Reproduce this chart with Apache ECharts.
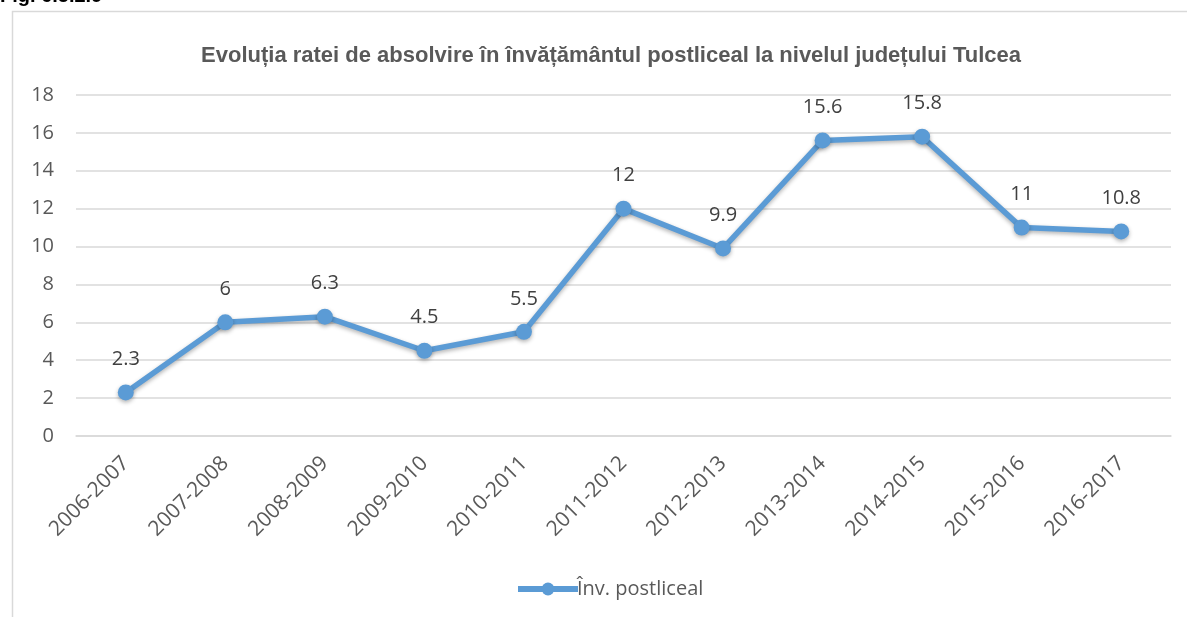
<!DOCTYPE html>
<html><head><meta charset="utf-8">
<script src="https://cdn.jsdelivr.net/npm/echarts@6/dist/echarts.min.js"></script>
<style>html,body{margin:0;padding:0;background:#fff}#c{width:1187px;height:617px}</style>
</head><body><div id="c"></div>
<script>
const categories = ['2006-2007','2007-2008','2008-2009','2009-2010','2010-2011','2011-2012','2012-2013','2013-2014','2014-2015','2015-2016','2016-2017'];
const values = [2.3, 6, 6.3, 4.5, 5.5, 12, 9.9, 15.6, 15.8, 11, 10.8];
const yTicks = [0, 2, 4, 6, 8, 10, 12, 14, 16, 18];
const FONT = '"Open Sans", "DejaVu Sans", sans-serif';
const chart = echarts.init(document.getElementById('c'));
chart.setOption({
  animation: false,
  graphic: [
    {type:'rect', shape:{x:12.5,y:11.5,width:1200,height:700}, style:{fill:'none', stroke:'#d9d9d9', lineWidth:1.5}, z:-1},
    {type:'text', left:0, top:-14, style:{text:'Fig. 6.5.2.9', font:'bold 20px "Liberation Sans", Arial', fill:'#000'}}
  ],
  title: {
    text: 'Evoluția ratei de absolvire în învățământul postliceal la nivelul județului Tulcea',
    left: 606, top: 40, textAlign: 'center',
    textStyle: {fontFamily: '"Liberation Sans", Arial', fontSize: 22, fontWeight: 'bold', color: '#595959'}
  },
  legend: {
    data: ['Înv. postliceal'], left: 510, top: 574,
    itemWidth: 60, itemHeight: 16, itemGap: 2,
    lineStyle: {width: 6},
    textStyle: {fontFamily: FONT, fontSize: 20, color: '#595959', padding:[0,0,0,-6]}
  },
  grid: {left: 76, right: 16, top: 95, bottom: 181, containLabel: false},
  xAxis: {
    type: 'category', data: categories, boundaryGap: true,
    axisLine: {lineStyle: {color: '#d9d9d9', width: 1.5}},
    axisTick: {show: false},
    axisLabel: {rotate: 45, interval: 0, fontFamily: FONT, fontSize: 21, color: '#595959', margin: 24}
  },
  yAxis: {
    type: 'value', min: 0, max: 18, interval: 2,
    axisLine: {show: false}, axisTick: {show: false},
    splitLine: {lineStyle: {color: '#d9d9d9', width: 1.5}},
    axisLabel: {fontFamily: FONT, fontSize: 20, color: '#595959', margin: 22,
      formatter: v => yTicks.includes(v) ? String(v) : ''}
  },
  series: [{
    name: 'Înv. postliceal', type: 'line', data: values,
    symbol: 'circle', symbolSize: 16,
    lineStyle: {color: '#5b9bd5', width: 5.5, shadowColor: 'rgba(0,0,0,0.3)', shadowBlur: 4, shadowOffsetY: 2},
    itemStyle: {color: '#5b9bd5', shadowColor: 'rgba(0,0,0,0.3)', shadowBlur: 4, shadowOffsetY: 2},
    label: {show: true, position: 'top', distance: 15, fontFamily: FONT, fontSize: 20, color: '#404040'}
  }]
});
</script></body></html>
